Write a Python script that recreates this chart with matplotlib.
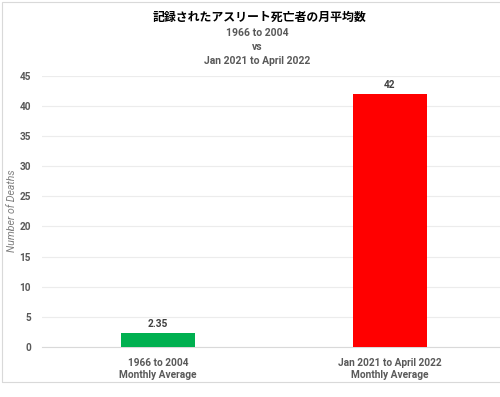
import matplotlib
matplotlib.use('Agg')
import matplotlib.pyplot as plt
from matplotlib.patches import Rectangle

# data
categories = ['1966 to 2004\nMonthly Average', 'Jan 2021 to April 2022\nMonthly Average']
values = [2.35, 42]
value_labels = ['2.35', '42']
bar_colors = ['#00B050', '#FF0000']
y_ticks = [0, 5, 10, 15, 20, 25, 30, 35, 40, 45]

title = '記録されたアスリート死亡者の月平均数'
subtitle = '1966 to 2004\nvs\nJan 2021 to April 2022'
y_label = 'Number of Deaths'

plt.rcParams['font.family'] = ['Roboto', 'Noto Sans CJK JP', 'DejaVu Sans']

W, H = 500, 397
fig = plt.figure(figsize=(W / 100, H / 100), dpi=100)
fig.patch.set_facecolor('white')

# chart area border (light grey, cut off on the right like the screenshot)
fig.patches.append(Rectangle((2 / W, 15 / H), 1.2, (H - 17) / H, transform=fig.transFigure,
                             fill=False, edgecolor='#d9d9d9', linewidth=0.8))

ax = fig.add_axes([42 / W, 50 / H, 464 / W, 271.3 / H])
x = list(range(len(categories)))
ax.bar(x, values, width=0.315, color=bar_colors, zorder=3)
ax.set_xlim(-0.5, 1.5)
ax.set_ylim(0, 45)
ax.set_yticks(y_ticks)
ax.set_xticks(x)
ax.set_xticklabels(categories, fontsize=7.3, fontweight='bold', color='#595959', linespacing=1.2)
ax.tick_params(axis='y', labelsize=7.2, labelcolor='#595959', length=0, pad=8)
ax.tick_params(axis='x', length=0, pad=8)
for lab in ax.get_yticklabels():
    lab.set_fontweight('bold')

ax.grid(axis='y', color='#ececec', linewidth=0.8, zorder=0)
for s in ['top', 'right', 'left']:
    ax.spines[s].set_visible(False)
ax.spines['bottom'].set_color('#d9d9d9')
ax.spines['bottom'].set_linewidth(0.8)

for xi, v, lab in zip(x, values, value_labels):
    ax.text(xi, v + 0.6, lab, ha='center', va='bottom', fontsize=7.3,
            fontweight='bold', color='#404040')

fig.text(12 / W, 1 - 211 / H, y_label, rotation=90, ha='center', va='center',
         fontsize=7.6, style='italic', color='#7f7f7f')

fig.text(260 / W, 1 - 17 / H, title, ha='center', va='center', fontsize=8.6,
         fontweight='bold', color='#000000', family=['Noto Sans CJK JP', 'DejaVu Sans'])
fig.text(257 / W, 1 - 47 / H, subtitle, ha='center', va='center', fontsize=7.5,
         fontweight='bold', color='#595959', linespacing=1.45)

fig.savefig('out.png', dpi=100)
